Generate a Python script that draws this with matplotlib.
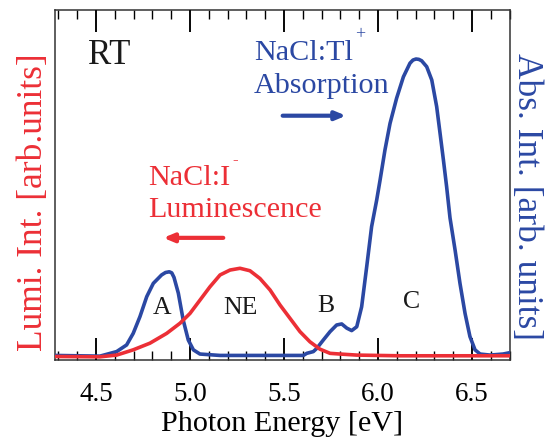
import matplotlib
matplotlib.use("Agg")
import matplotlib.pyplot as plt

plt.rcParams['font.family'] = ['Liberation Serif', 'DejaVu Serif']

# NaCl:Tl+ absorption (blue), photon energy [eV] vs normalized intensity
abs_energy = [4.282, 4.521, 4.610, 4.663, 4.698, 4.734, 4.770, 4.805, 4.849, 4.870,
              4.890, 4.903, 4.915, 4.938, 4.964, 4.991, 5.018, 5.053, 5.160, 5.370,
              5.603, 5.621, 5.656, 5.674, 5.709, 5.745, 5.780, 5.807, 5.834, 5.860,
              5.887, 5.913, 5.940, 5.966, 5.993, 6.011, 6.037, 6.064, 6.099, 6.135,
              6.170, 6.186, 6.202, 6.217, 6.232, 6.259, 6.286, 6.312, 6.330, 6.348,
              6.365, 6.383, 6.410, 6.436, 6.463, 6.489, 6.516, 6.543, 6.596, 6.665,
              6.702]
abs_int = [0.013, 0.011, 0.024, 0.043, 0.076, 0.124, 0.181, 0.219, 0.243, 0.250,
           0.252, 0.249, 0.236, 0.191, 0.114, 0.057, 0.029, 0.017, 0.013, 0.013,
           0.013, 0.019, 0.024, 0.033, 0.057, 0.081, 0.100, 0.103, 0.091, 0.084,
           0.095, 0.152, 0.267, 0.381, 0.457, 0.514, 0.600, 0.676, 0.748, 0.809,
           0.848, 0.857, 0.860, 0.859, 0.855, 0.838, 0.800, 0.724, 0.648, 0.571,
           0.495, 0.406, 0.314, 0.219, 0.133, 0.067, 0.029, 0.017, 0.014, 0.017,
           0.021]

# NaCl:I- luminescence (red)
lum_energy = [4.282, 4.521, 4.610, 4.698, 4.787, 4.876, 4.947, 5.000, 5.053, 5.106,
              5.160, 5.213, 5.266, 5.319, 5.372, 5.426, 5.479, 5.532, 5.585, 5.638,
              5.691, 5.745, 5.798, 5.887, 6.117, 6.702]
lum_int = [0.010, 0.009, 0.014, 0.029, 0.048, 0.076, 0.105, 0.133, 0.171, 0.209,
           0.243, 0.257, 0.262, 0.255, 0.233, 0.200, 0.157, 0.119, 0.081, 0.052,
           0.031, 0.019, 0.017, 0.014, 0.012, 0.012]

band_labels = ['A', 'NE', 'B', 'C']
band_x = [4.852, 5.270, 5.720, 6.181]
band_y = [0.131, 0.131, 0.136, 0.148]

x_ticks = [4.5, 5.0, 5.5, 6.0, 6.5]
x_ticklabels = ['4.5', '5.0', '5.5', '6.0', '6.5']
x_minor = [4.3, 4.4, 4.6, 4.7, 4.8, 4.9, 5.1, 5.2, 5.3, 5.4, 5.6, 5.7, 5.8, 5.9,
           6.1, 6.2, 6.3, 6.4, 6.6, 6.7]

BLUE = '#2b48a3'
RED = '#ec2f36'
SPINE = '#333333'
INK = '#1a1a1a'

fig = plt.figure(figsize=(5.52, 4.41), dpi=100)
ax = fig.add_axes([0.0996, 0.1837, 0.9239 - 0.0996, 0.9773 - 0.1837])

ax.plot(abs_energy, abs_int, color=BLUE, lw=2.6, solid_joinstyle='round', zorder=3)
ax.plot(lum_energy, lum_int, color=RED, lw=2.6, solid_joinstyle='round', zorder=4)

ax.set_xlim(4.282, 6.702)
ax.set_ylim(0, 1.0)
ax.set_yticks([])
for s in ax.spines.values():
    s.set_color(SPINE)
    s.set_linewidth(1.1)

ax.set_xticks(x_ticks)
ax.set_xticklabels(x_ticklabels)
ax.set_xticks(x_minor, minor=True)
ax.tick_params(axis='x', which='both', direction='in', top=True, bottom=True,
               color='black')
ax.tick_params(axis='x', which='major', length=15.5, width=1.1,
               labelsize=19.5, pad=15.5)
ax.tick_params(axis='x', which='minor', length=6.7, width=1.0)

# long major tick marks at the tick positions (bottom and top edges)
xt = ax.get_xaxis_transform()
major_len = 15.5 / 72 * 100 / 350
ax.vlines(x_ticks, 0, major_len, transform=xt, color='black', lw=1.1,
          zorder=2.6, clip_on=False)
ax.vlines(x_ticks, 1 - major_len, 1, transform=xt, color='black', lw=1.1,
          zorder=2.6, clip_on=False)

ax.set_xlabel('Photon Energy [eV]', fontsize=21.7, labelpad=3)
ax.text(-0.048, 0.45, 'Lumi. Int. [arb.units]', fontsize=25.5, color=RED,
        rotation=90, ha='center', va='center', transform=ax.transAxes)
ax.text(1.036, 0.467, 'Abs. Int. [arb. units]', fontsize=25.5, color=BLUE,
        rotation=270, ha='center', va='center', transform=ax.transAxes)

ax.text(4.459, 0.846, 'RT', fontsize=25, color=INK, ha='left', va='baseline')
ax.text(5.340, 0.857, 'NaCl:Tl', fontsize=21.7, color=BLUE, ha='left', va='baseline')
ax.text(5.904, 0.931, '+', fontsize=13, color=BLUE, ha='center', va='center')
ax.text(5.340, 0.762, 'Absorption', fontsize=21.7, color=BLUE, ha='left', va='baseline')
ax.text(4.778, 0.500, 'NaCl:I', fontsize=21.7, color=RED, ha='left', va='baseline')
ax.text(5.238, 0.572, '-', fontsize=12, color=RED, ha='center', va='center')
ax.text(4.778, 0.409, 'Luminescence', fontsize=21.7, color=RED, ha='left', va='baseline')

ax.annotate('', xy=(5.830, 0.698), xytext=(5.493, 0.698),
            arrowprops=dict(arrowstyle='-|>,head_length=0.6,head_width=0.25',
                            color=BLUE, lw=3, shrinkA=0, shrinkB=0))
ax.annotate('', xy=(4.858, 0.349), xytext=(5.177, 0.349),
            arrowprops=dict(arrowstyle='-|>,head_length=0.6,head_width=0.25',
                            color=RED, lw=3, shrinkA=0, shrinkB=0))

for lab, bx, by in zip(band_labels, band_x, band_y):
    ax.text(bx, by, lab, fontsize=18.5, color=INK, ha='center', va='baseline')

fig.savefig('out.png', dpi=100)
